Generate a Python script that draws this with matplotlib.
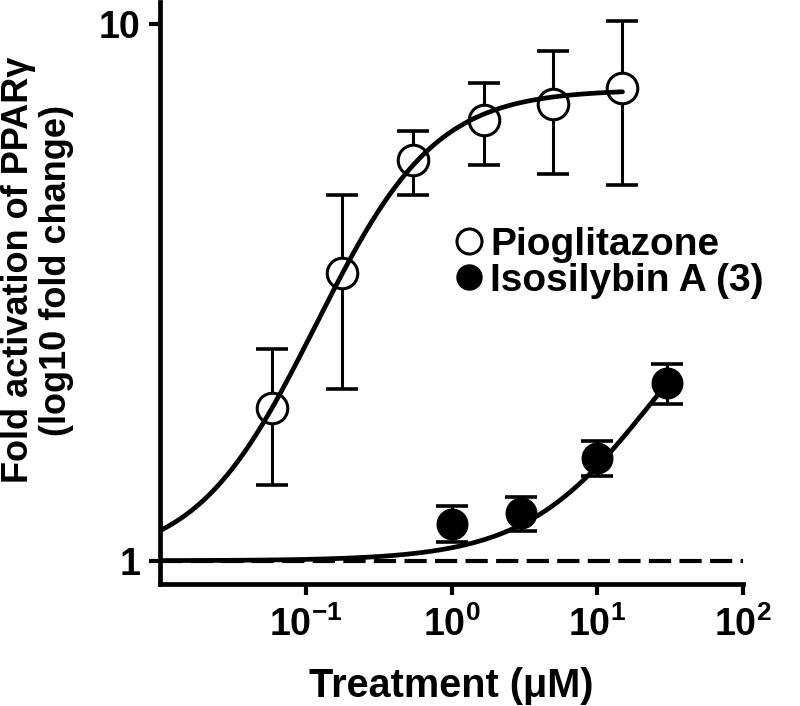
import numpy as np
import matplotlib
matplotlib.use("Agg")
import matplotlib.pyplot as plt
from matplotlib.lines import Line2D

plt.rcParams['font.family'] = ['Liberation Sans', 'DejaVu Sans']
plt.rcParams['font.weight'] = 'bold'
plt.rcParams['mathtext.fontset'] = 'custom'
plt.rcParams['mathtext.rm'] = 'Liberation Sans:bold'
plt.rcParams['mathtext.it'] = 'Liberation Sans:bold'
plt.rcParams['mathtext.bf'] = 'Liberation Sans:bold'
plt.rcParams['lines.scale_dashes'] = False

# ---- data ----
pio_x = [0.059, 0.178, 0.547, 1.67, 5.0, 14.9]
pio_y = [1.93, 3.44, 5.58, 6.63, 7.09, 7.59]
pio_hi = [2.48, 4.80, 6.31, 7.76, 8.92, 10.15]
pio_lo = [1.386, 2.09, 4.80, 5.46, 5.25, 5.01]

iso_x = [1.0, 3.0, 10.0, 30.0]
iso_y = [1.172, 1.227, 1.554, 2.14]
iso_hi = [1.263, 1.315, 1.670, 2.33]
iso_lo = [1.082, 1.134, 1.441, 1.96]

# fitted dose-response parameters (estimated from the drawn curves)
pio_bottom, pio_top, pio_logec50, pio_hill = 1.0, 7.55, -0.55, 1.15
iso_logtop, iso_logec50, iso_hill = 0.586, np.log10(23.3), 1.0

x_ticks = [0.1, 1, 10, 100]
x_ticklabels = [r'$10^{-1}$', r'$10^{0}$', r'$10^{1}$', r'$10^{2}$']
y_ticks = [1, 10]
y_ticklabels = ['1', '10']

fig = plt.figure(figsize=(8, 7.06), dpi=100)
ax = fig.add_axes([160/800, 1-584/706, (743-160)/800, (584-2)/706])
ax.set_xscale('log')
ax.set_yscale('log')
ax.set_xlim(0.01, 100)
ax.set_ylim(0.905, 11.0)

# baseline
ax.plot([0.01, 100], [1, 1], color='black', lw=3.0, dashes=(16, 6), zorder=1)

# curves
xc = np.logspace(-2, np.log10(pio_x[-1]), 300)
yc = pio_bottom + (pio_top - pio_bottom) / (1 + 10 ** ((pio_logec50 - np.log10(xc)) * pio_hill))
xi = np.logspace(-2, np.log10(iso_x[-1]), 300)
yi = 10 ** (iso_logtop / (1 + 10 ** ((iso_logec50 - np.log10(xi)) * iso_hill)))

# error bars
pio_err = [np.array(pio_y) - np.array(pio_lo), np.array(pio_hi) - np.array(pio_y)]
iso_err = [np.array(iso_y) - np.array(iso_lo), np.array(iso_hi) - np.array(iso_y)]
ax.errorbar(pio_x, pio_y, yerr=pio_err, fmt='none', ecolor='black', elinewidth=2.2,
            capsize=11.5, capthick=2.6, zorder=2)
ax.errorbar(iso_x, iso_y, yerr=iso_err, fmt='none', ecolor='black', elinewidth=2.2,
            capsize=11.5, capthick=2.6, zorder=2)

ax.plot(pio_x, pio_y, 'o', ms=22, mfc='white', mec='black', mew=2.2, zorder=3)
ax.plot(iso_x, iso_y, 'o', ms=22, mfc='black', mec='black', mew=1, zorder=3)

ax.plot(xc, yc, color='black', lw=3.4, zorder=4, solid_capstyle='round')
ax.plot(xi, yi, color='black', lw=3.4, zorder=4, solid_capstyle='round')

# axes styling
for s in ['top', 'right']:
    ax.spines[s].set_visible(False)
for s in ['left', 'bottom']:
    ax.spines[s].set_linewidth(3.4)
ax.set_xticks(x_ticks)
ax.set_xticklabels(x_ticklabels)
ax.set_yticks(y_ticks)
ax.set_yticklabels(y_ticklabels)
ax.minorticks_off()
ax.tick_params(axis='both', which='major', length=8, width=3.0, labelsize=27, pad=6)
ax.tick_params(axis='x', pad=8)

# legend
handles = [Line2D([], [], ls='none', marker='o', ms=18, mfc='white', mec='black', mew=2.2),
           Line2D([], [], ls='none', marker='o', ms=18, mfc='black', mec='black')]
ax.legend(handles, ['Pioglitazone', 'Isosilybin A (3)'], loc='center left',
          bbox_to_anchor=(453/800, 1-263/706), bbox_transform=fig.transFigure,
          frameon=False, fontsize=28, handlelength=0.8, handletextpad=0.15,
          labelspacing=0.0, borderpad=0, borderaxespad=0)

# axis labels
fig.text(451/800, 1-686/706, 'Treatment (μM)', ha='center', va='center', fontsize=28.5, fontweight='bold')
fig.text(19/800, 1-270/706, 'Fold activation of PPARγ', rotation=90, ha='center', va='center',
         fontsize=26, fontweight='bold')
fig.text(56/800, 1-270/706, '(log10 fold change)', rotation=90, ha='center', va='center',
         fontsize=26, fontweight='bold')

fig.savefig('out.png', dpi=100)
